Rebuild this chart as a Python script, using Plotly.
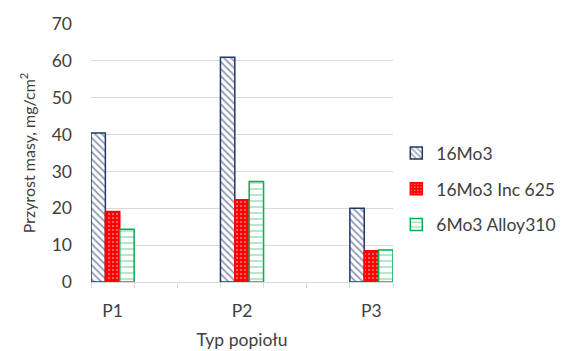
import plotly.graph_objects as go

# Ash types on the x axis
ash_types = ["P1", "P2", "P3"]

# Mass gain, mg/cm2, per steel / coating
mo3_16 = [40.4, 61.0, 20.0]
mo3_inc625 = [19.1, 22.3, 8.5]
mo3_alloy310 = [14.3, 27.3, 8.7]

series_names = ["16Mo3", "16Mo3 Inc 625", "6Mo3 Alloy310"]

FONT = "Lato, Carlito, Calibri, sans-serif"
TXT = "#404040"
GRID = "#D9D9D9"

# each ash type sits in its own slot with two empty slots between groups
SLOT_STEP = 3
n_slots = SLOT_STEP * (len(ash_types) - 1) + 1
x_pos = [i * SLOT_STEP for i in range(len(ash_types))]

styles = [
    dict(color="white", line=dict(color="#1F3864", width=1.5),
         pattern=dict(shape="\\", fgcolor="#1F3864", bgcolor="white",
                      size=5, solidity=0.35)),
    dict(color="#FF0000", line=dict(color="#FF0000", width=1.5),
         pattern=dict(shape=".", fgcolor="white", bgcolor="#FF0000",
                      size=4, solidity=0.2)),
    dict(color="white", line=dict(color="#00B050", width=1.5),
         pattern=dict(shape="-", fgcolor="#00B050", bgcolor="white",
                      size=6, solidity=0.2)),
]

fig = go.Figure()
n_series = len(series_names)
for i, (name, vals) in enumerate(zip(series_names, [mo3_16, mo3_inc625, mo3_alloy310])):
    fig.add_trace(go.Bar(
        x=x_pos, y=vals, name=name, legendgroup=name,
        width=1 / n_series, offset=-0.5 + i / n_series,
        marker=styles[i],
    ))

fig.update_layout(
    width=569, height=351,
    margin=dict(l=91, r=176, t=24, b=69),
    paper_bgcolor="white", plot_bgcolor="white",
    barmode="overlay",
    font=dict(family=FONT, size=17.5, color=TXT),
    showlegend=True,
    legend=dict(xref="container", yref="container", x=0.6965, y=0.461,
                xanchor="left", yanchor="middle",
                font=dict(size=17.5, color=TXT), tracegroupgap=10,
                itemwidth=30, bgcolor="rgba(0,0,0,0)", borderwidth=0),
    xaxis=dict(
        automargin=False,
        range=[-0.5, n_slots - 0.5],
        tickmode="array", tickvals=x_pos, ticktext=ash_types, ticks="",
        ticklabelstandoff=13,
        minor=dict(tickmode="array",
                   tickvals=[k - 0.5 for k in range(n_slots + 1)],
                   ticks="outside", ticklen=5, tickcolor=GRID, showgrid=False),
        showline=True, linecolor=GRID, linewidth=1, zeroline=False,
        showgrid=False, tickfont=dict(size=17.5, color=TXT),
        title=dict(text="Typ popiołu", font=dict(size=17.5, color=TXT), standoff=13),
    ),
    yaxis=dict(
        automargin=False,
        range=[0, 70], dtick=10, showgrid=True, gridcolor=GRID, gridwidth=1,
        zeroline=False, showline=False, ticks="", ticklabelstandoff=18,
        tickfont=dict(size=17.5, color=TXT),
        title=dict(text="Przyrost masy, mg/cm<sup>2</sup>",
                   font=dict(size=16, color=TXT), standoff=12),
    ),
)

fig.write_html("out.html")
